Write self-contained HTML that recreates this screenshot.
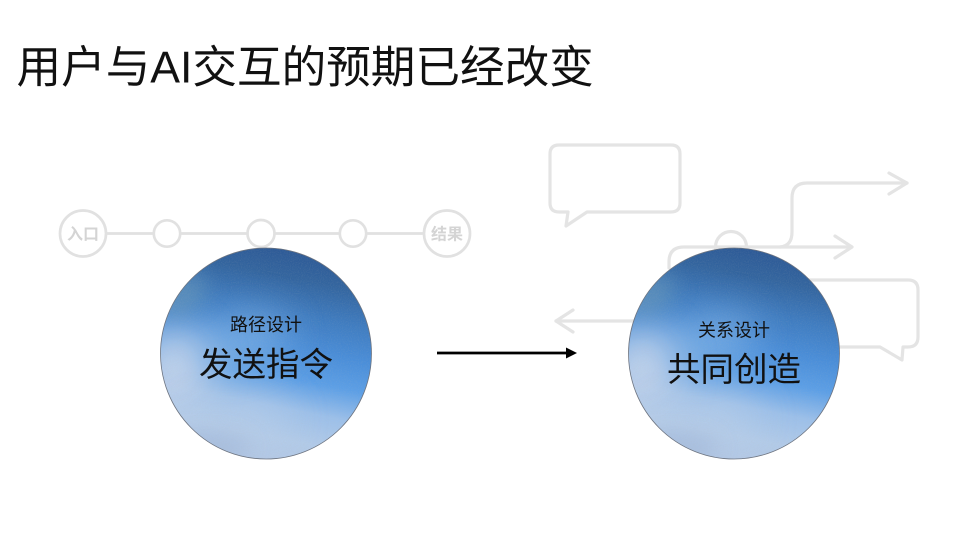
<!DOCTYPE html>
<html lang="zh">
<head>
<meta charset="utf-8">
<style>
html,body{margin:0;padding:0;background:#fff;width:959px;height:539px;overflow:hidden}
svg{display:block}
text{font-family:"Liberation Sans","Noto Sans CJK SC",sans-serif}
</style>
</head>
<body>
<svg width="959" height="539" viewBox="0 0 959 539" xmlns="http://www.w3.org/2000/svg">
<defs>
  <linearGradient id="g" gradientUnits="userSpaceOnUse" x1="30" y1="-106" x2="-12" y2="106">
    <stop offset="0" stop-color="#2c5895"/>
    <stop offset="0.14" stop-color="#33659f"/>
    <stop offset="0.3" stop-color="#3f7cc0"/>
    <stop offset="0.46" stop-color="#4a8ed9"/>
    <stop offset="0.6" stop-color="#5c9fe6"/>
    <stop offset="0.74" stop-color="#9cc0ea"/>
    <stop offset="0.88" stop-color="#b2cbe9"/>
    <stop offset="1" stop-color="#b4c9e6"/>
  </linearGradient>
  <filter id="b" x="-80%" y="-80%" width="260%" height="260%"><feGaussianBlur stdDeviation="20"/></filter>
  <filter id="b2" x="-80%" y="-80%" width="260%" height="260%"><feGaussianBlur stdDeviation="11"/></filter>
  <filter id="n" x="0" y="0" width="100%" height="100%">
    <feTurbulence type="fractalNoise" baseFrequency="0.9" numOctaves="2" seed="4"/>
    <feColorMatrix type="matrix" values="0 0 0 0 0.5  0 0 0 0 0.5  0 0 0 0 0.5  0.9 0 0 0 -0.35"/>
  </filter>
  <clipPath id="c1"><circle cx="266" cy="353.5" r="105.5"/></clipPath>
  <clipPath id="c2"><circle cx="734" cy="353.5" r="105.5"/></clipPath>
  <g id="orb">
    <rect x="-106" y="-106" width="212" height="212" fill="url(#g)"/>
    <ellipse cx="-25" cy="-12" rx="48" ry="24" fill="#80b2e6" opacity="0.8" filter="url(#b)" transform="rotate(-14 -25 -12)"/>
    <ellipse cx="-92" cy="14" rx="36" ry="40" fill="#c4d4ea" opacity="0.98" filter="url(#b)"/>
    <ellipse cx="-30" cy="66" rx="56" ry="18" fill="#bcd0ea" opacity="0.7" filter="url(#b)"/>
    <ellipse cx="-84" cy="-58" rx="28" ry="16" fill="#6796b8" opacity="0.7" filter="url(#b2)" transform="rotate(-32 -84 -58)"/>
    <ellipse cx="-60" cy="94" rx="44" ry="14" fill="#a3b9da" opacity="0.8" filter="url(#b2)"/>
    <rect x="-106" y="-106" width="212" height="212" filter="url(#n)" opacity="0.3"/>
  </g>
</defs>

<rect width="959" height="539" fill="#fff"/>

<text x="16.5" y="82.5" font-size="44.6" fill="#111">用户与AI交互的预期已经改变</text>

<!-- path design background -->
<g fill="none" stroke="#e1e1e1" stroke-width="2.7">
  <path d="M106 233.5H154M180 233.5H248M274 233.5H340M366 233.5H424"/>
  <circle cx="83" cy="233.5" r="23"/>
  <circle cx="167" cy="233.5" r="13.2"/>
  <circle cx="261" cy="233.5" r="13.5"/>
  <circle cx="353" cy="233.5" r="13.2"/>
  <circle cx="447" cy="233.5" r="23"/>
</g>
<text x="83" y="239.5" font-size="16" font-weight="700" fill="#d4d4d4" text-anchor="middle">入口</text>
<text x="447" y="239.5" font-size="16" font-weight="700" fill="#d4d4d4" text-anchor="middle">结果</text>

<!-- relation design background -->
<g fill="none" stroke="#e4e4e4" stroke-width="3.2" stroke-linecap="round" stroke-linejoin="round">
  <path d="M559 145H671Q680 145 680 154V203Q680 212 671 212H587L566 226L568 212H559Q550 212 550 203V154Q550 145 559 145Z"/>
  <path d="M780 247Q792 246 792 232V198Q792 183 807 183H907"/>
  <path d="M889 173L907 183L889 194"/>
  <path d="M669 268V262Q669 247 684 247H851"/>
  <path d="M835 236L852 247L835 258"/>
  <circle cx="731" cy="247" r="15.5"/>
  <path d="M640 321H556"/>
  <path d="M573 310L556 321L573 332"/>
  <path d="M800 280H908Q918 280 918 290V337Q918 347 908 347H903L902 360L880 347H800"/>
</g>

<!-- arrow -->
<path d="M437 353H567" stroke="#000" stroke-width="2.7" fill="none"/>
<path d="M566 347.5L577 353L566 358.5Z" fill="#000"/>

<!-- orbs -->
<g clip-path="url(#c1)"><use href="#orb" transform="translate(266 353.5)"/></g>
<circle cx="266" cy="353.5" r="105.5" fill="none" stroke="#6d7480" stroke-width="0.8"/>
<g clip-path="url(#c2)"><use href="#orb" transform="translate(734 353.5)"/></g>
<circle cx="734" cy="353.5" r="105.5" fill="none" stroke="#6d7480" stroke-width="0.8"/>

<text x="266" y="331" font-size="18" fill="#111" text-anchor="middle">路径设计</text>
<text x="266" y="376" font-size="33.5" fill="#111" text-anchor="middle">发送指令</text>
<text x="734" y="336.5" font-size="18" fill="#111" text-anchor="middle">关系设计</text>
<text x="734" y="381" font-size="33.5" fill="#111" text-anchor="middle">共同创造</text>
</svg>
</body>
</html>
